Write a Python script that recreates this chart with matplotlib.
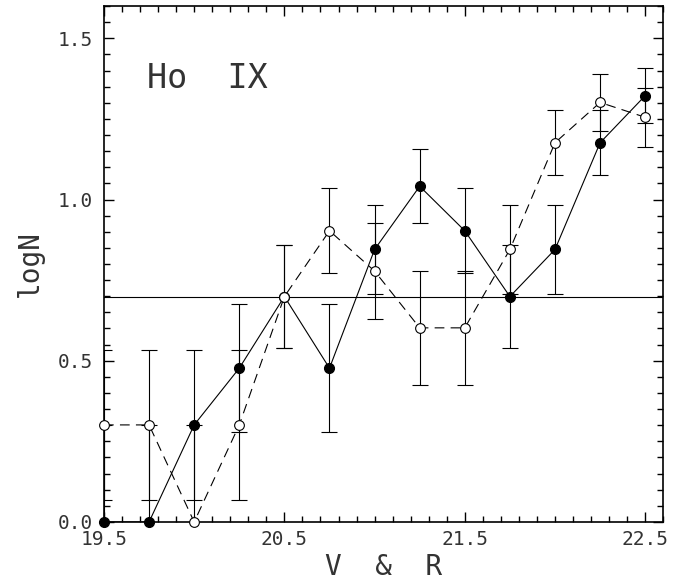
import matplotlib
matplotlib.use("Agg")
import matplotlib.pyplot as plt
from matplotlib.ticker import MultipleLocator, FixedLocator

# magnitudes (V & R)
mag = [19.5, 19.75, 20.0, 20.25, 20.5, 20.75, 21.0, 21.25, 21.5, 21.75, 22.0, 22.25, 22.5]

# filled circles, solid line
logn_a = [0.0, 0.0, 0.301, 0.477, 0.699, 0.477, 0.845, 1.041, 0.903, 0.699, 0.845, 1.176, 1.322]
err_a = [0.301, 0.301, 0.233, 0.199, 0.161, 0.199, 0.139, 0.115, 0.132, 0.161, 0.139, 0.100, 0.086]

# open circles, dashed line
logn_b = [0.301, 0.301, 0.0, 0.301, 0.699, 0.903, 0.778, 0.602, 0.602, 0.845, 1.176, 1.301, 1.255]
err_b = [0.233, 0.233, 0.301, 0.233, 0.161, 0.132, 0.149, 0.176, 0.176, 0.139, 0.100, 0.088, 0.092]

ref_level = 0.699

xticks = [19.5, 20.5, 21.5, 22.5]
yticks = [0.0, 0.5, 1.0, 1.5]

plt.rcParams['lines.scale_dashes'] = False

fig = plt.figure(figsize=(6.95, 5.84), dpi=100)
ax = fig.add_axes([0.1496, 0.1062, 0.8047, 0.8835])

ax.axhline(ref_level, color='black', lw=0.8)

# error bars (clipped at the axes)
ax.errorbar(mag, logn_a, yerr=err_a, fmt='none', ecolor='black',
            elinewidth=0.8, capsize=6, capthick=0.8)
ax.errorbar(mag, logn_b, yerr=err_b, fmt='none', ecolor='black',
            elinewidth=0.8, capsize=6, capthick=0.8)

# connecting lines
ax.plot(mag, logn_a, color='black', lw=0.8)
ax.plot(mag, logn_b, color='black', lw=0.8, linestyle=(0, (7, 4.5)))

# markers drawn unclipped so the points on the axis stay whole
ax.plot(mag, logn_a, 'o', color='black', ms=7, clip_on=False, zorder=4)
ax.plot(mag, logn_b, 'o', mfc='white', mec='black', mew=0.8, ms=7,
        clip_on=False, zorder=4)

ax.set_xlim(19.5, 22.6)
ax.set_ylim(0, 1.6)

ax.xaxis.set_major_locator(FixedLocator(xticks))
ax.xaxis.set_minor_locator(MultipleLocator(0.1))
ax.yaxis.set_major_locator(FixedLocator(yticks))
ax.yaxis.set_minor_locator(MultipleLocator(0.05))
ax.set_xticklabels(["%.1f" % t for t in xticks])
ax.set_yticklabels(["%.1f" % t for t in yticks])

ax.tick_params(which='both', direction='in', top=True, right=True, width=1)
ax.tick_params(which='major', length=7)
ax.tick_params(which='minor', length=4.5)
ax.tick_params(axis='x', pad=6)
ax.tick_params(axis='y', pad=8)
for lab in ax.get_xticklabels() + ax.get_yticklabels():
    lab.set_fontfamily('DejaVu Sans Mono')
    lab.set_fontsize(14)
    lab.set_color('#333333')
for s in ax.spines.values():
    s.set_linewidth(1.2)

ax.set_xlabel("V  &  R", fontsize=20, family='DejaVu Sans Mono', color='#333333', labelpad=3)
ax.set_ylabel("logN", fontsize=20, family='DejaVu Sans Mono', color='#333333', labelpad=10)
ax.text(0.077, 0.86, "Ho  IX", transform=ax.transAxes, fontsize=24,
        family='DejaVu Sans Mono', color='#333333', ha='left', va='center')

fig.savefig("out.png", dpi=100)
